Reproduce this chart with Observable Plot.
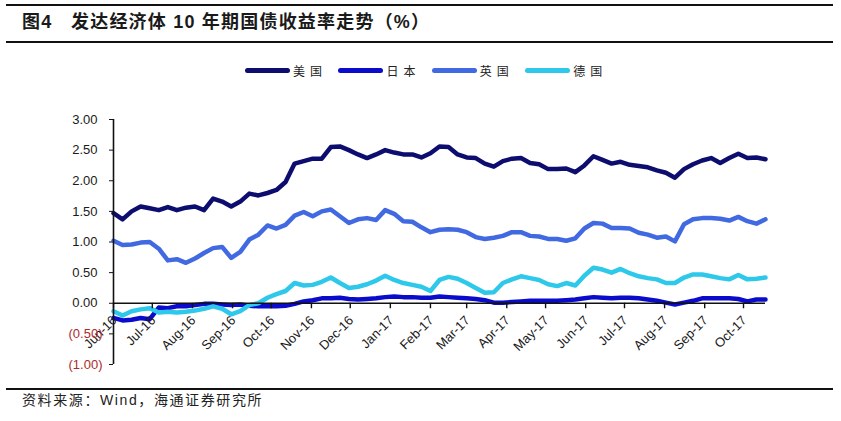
<!DOCTYPE html>
<html><head><meta charset="utf-8">
<script src="https://cdn.jsdelivr.net/npm/d3@7"></script>
<script src="https://cdn.jsdelivr.net/npm/@observablehq/plot@0.6"></script>
<style>
body{margin:0;background:#fff;}
#wrap{position:relative;width:841px;height:421px;overflow:hidden;background:#fff;font-family:"Liberation Sans",Arial,"Noto Sans CJK SC",sans-serif;color:#1a1a1a;}
.rule{position:absolute;left:6px;width:827px;height:0;border-top:2px solid #111;}
#title{position:absolute;left:22px;top:10px;font-size:18px;font-weight:bold;line-height:24px;white-space:nowrap;letter-spacing:1.2px;font-family:"Liberation Sans","Noto Sans CJK SC",sans-serif;}
#legend{position:absolute;top:60px;left:0;height:20px;width:841px;}
.li{position:absolute;top:0;height:20px;display:flex;align-items:center;}
.sw{width:45px;height:5px;border-radius:3px;}
.lab{margin-left:3px;font-size:12px;letter-spacing:5px;font-family:"Noto Sans CJK SC",sans-serif;color:#222;}
#chart{position:absolute;left:0;top:85px;}
#foot{position:absolute;left:22px;top:390px;font-size:14px;line-height:20px;letter-spacing:1.6px;white-space:nowrap;font-family:"Liberation Sans","Noto Sans CJK SC",sans-serif;color:#222;}
</style></head>
<body>
<div id="wrap">
  <div class="rule" style="top:4px"></div>
  <div id="title">图4&nbsp;&nbsp;&nbsp;发达经济体 10 年期国债收益率走势（%）</div>
  <div class="rule" style="top:41px"></div>
  <div id="legend"></div>
  <div id="chart"></div>
  <div class="rule" style="top:388px"></div>
  <div id="foot">资料来源：Wind，海通证券研究所</div>
</div>
<script>
// ---- data (weekly readings, %) ----
const dates = ["2016-06-24","2016-07-01","2016-07-08","2016-07-15","2016-07-22","2016-07-29","2016-08-05","2016-08-12","2016-08-19","2016-08-26",
"2016-09-02","2016-09-09","2016-09-16","2016-09-23","2016-09-30","2016-10-07","2016-10-14","2016-10-21","2016-10-28","2016-11-04",
"2016-11-11","2016-11-18","2016-11-25","2016-12-02","2016-12-09","2016-12-16","2016-12-23","2016-12-30","2017-01-06","2017-01-13",
"2017-01-20","2017-01-27","2017-02-03","2017-02-10","2017-02-17","2017-02-24","2017-03-03","2017-03-10","2017-03-17","2017-03-24",
"2017-03-31","2017-04-07","2017-04-14","2017-04-21","2017-04-28","2017-05-05","2017-05-12","2017-05-19","2017-05-26","2017-06-02",
"2017-06-09","2017-06-16","2017-06-23","2017-06-30","2017-07-07","2017-07-14","2017-07-21","2017-07-28","2017-08-04","2017-08-11",
"2017-08-18","2017-08-25","2017-09-01","2017-09-08","2017-09-15","2017-09-22","2017-09-29","2017-10-06","2017-10-13","2017-10-20",
"2017-10-27","2017-11-03","2017-11-10"];
const usYield = [1.47,1.37,1.50,1.58,1.55,1.52,1.57,1.52,1.56,1.58,
1.52,1.71,1.66,1.58,1.66,1.79,1.76,1.80,1.85,1.98,
2.28,2.32,2.36,2.36,2.55,2.56,2.50,2.43,2.37,2.43,
2.50,2.46,2.43,2.43,2.38,2.45,2.56,2.55,2.43,2.38,
2.37,2.28,2.23,2.32,2.36,2.37,2.29,2.27,2.19,2.19,
2.20,2.14,2.25,2.40,2.34,2.28,2.31,2.26,2.24,2.22,
2.17,2.13,2.05,2.19,2.27,2.33,2.37,2.29,2.37,2.44,
2.37,2.38,2.35];
const jpYield = [-0.24,-0.28,-0.27,-0.24,-0.26,-0.07,-0.08,-0.05,-0.05,-0.03,
-0.01,-0.01,-0.02,-0.03,-0.02,-0.04,-0.05,-0.05,-0.05,-0.04,
-0.01,0.03,0.05,0.08,0.08,0.09,0.07,0.06,0.07,0.08,
0.10,0.11,0.10,0.10,0.09,0.09,0.11,0.10,0.09,0.08,
0.07,0.05,0.01,0.01,0.02,0.03,0.04,0.04,0.04,0.04,
0.05,0.06,0.08,0.10,0.09,0.08,0.09,0.09,0.08,0.06,
0.04,0.01,-0.02,0.01,0.04,0.08,0.08,0.08,0.08,0.07,
0.03,0.06,0.06];
const ukYield = [1.02,0.95,0.96,0.99,1.00,0.89,0.70,0.72,0.66,0.73,
0.82,0.90,0.92,0.74,0.84,1.04,1.12,1.27,1.22,1.28,
1.43,1.49,1.42,1.50,1.53,1.42,1.31,1.37,1.39,1.36,
1.52,1.46,1.34,1.33,1.24,1.16,1.20,1.21,1.20,1.16,
1.08,1.05,1.07,1.10,1.16,1.16,1.10,1.09,1.05,1.05,
1.02,1.06,1.22,1.31,1.30,1.23,1.23,1.22,1.15,1.12,
1.07,1.09,1.01,1.29,1.37,1.39,1.39,1.38,1.35,1.41,
1.34,1.30,1.37];
const deYield = [-0.13,-0.20,-0.13,-0.10,-0.08,-0.15,-0.14,-0.15,-0.14,-0.12,
-0.09,-0.05,-0.09,-0.18,-0.13,-0.03,0.00,0.09,0.15,0.20,
0.33,0.29,0.30,0.35,0.42,0.33,0.25,0.27,0.31,0.37,
0.45,0.38,0.33,0.30,0.27,0.20,0.38,0.43,0.40,0.33,
0.25,0.17,0.18,0.33,0.39,0.44,0.41,0.38,0.31,0.28,
0.33,0.29,0.45,0.58,0.55,0.50,0.56,0.49,0.44,0.41,
0.39,0.33,0.33,0.42,0.47,0.47,0.44,0.41,0.39,0.46,
0.39,0.40,0.42];
const seriesNames = ["美国","日本","英国","德国"];
const seriesColors = ["#0d0d70","#0b0bcc","#4169e1","#2ec9ea"];
const yTicks = [3,2.5,2,1.5,1,0.5,0,-0.5,-1];
const yTickLabels = ["3.00","2.50","2.00","1.50","1.00","0.50","0.00","(0.50)","(1.00)"];
const xTickDates = ["2016-06-24","2016-07-24","2016-08-24","2016-09-24","2016-10-24","2016-11-24","2016-12-24","2017-01-24","2017-02-24",
"2017-03-24","2017-04-24","2017-05-24","2017-06-24","2017-07-24","2017-08-24","2017-09-24","2017-10-24"];
const xTickLabels = ["Jun-16","Jul-16","Aug-16","Sep-16","Oct-16","Nov-16","Dec-16","Jan-17","Feb-17",
"Mar-17","Apr-17","May-17","Jun-17","Jul-17","Aug-17","Sep-17","Oct-17"];
const xStart = "2016-06-24", xEnd = "2017-11-10";

// ---- build ----
const parse = d3.utcParse("%Y-%m-%d");
const values = [usYield, jpYield, ukYield, deYield];
const rows = [];
seriesNames.forEach((s, i) => dates.forEach((d, j) => rows.push({date: parse(d), value: values[i][j], series: s})));
const xt = xTickDates.map((d, i) => ({date: parse(d), label: xTickLabels[i]}));
const yt = yTicks.map((v, i) => ({v, label: yTickLabels[i]}));
const x0 = parse(xStart);

// legend
const leg = document.getElementById("legend");
seriesNames.forEach((s, i) => {
  const el = document.createElement("div");
  el.className = "li";
  el.style.left = (245 + i * 93.4) + "px";
  el.innerHTML = `<div class="sw" style="background:${seriesColors[i]}"></div><span class="lab">${s}</span>`;
  leg.appendChild(el);
});

const chart = Plot.plot({
  width: 841,
  height: 300,
  marginLeft: 113,
  marginRight: 76,
  marginTop: 34,
  marginBottom: 21,
  style: {fontFamily: "Liberation Sans, Arial, sans-serif", fontSize: "13px", background: "transparent"},
  x: {type: "utc", domain: [x0, parse(xEnd)], axis: null},
  y: {domain: [-1, 3]},
  color: {domain: seriesNames, range: seriesColors},
  marks: [
    Plot.axisY({ticks: yTicks, tickSize: 4, tickFormat: () => "", label: null, stroke: "#111"}),
    Plot.line(rows, {x: "date", y: "value", z: "series", stroke: "series", strokeWidth: 4.5, strokeLinejoin: "round", strokeLinecap: "round"}),
    Plot.ruleY([0], {stroke: "#111", strokeWidth: 1.6}),
    Plot.ruleX([x0], {y1: -1, y2: 3, stroke: "#111", strokeWidth: 1.6}),
    Plot.ruleX(xt, {x: "date", y1: 0, y2: -0.09, stroke: "#111", strokeWidth: 1.4}),
    Plot.text(xt, {x: "date", y: 0, text: "label", rotate: -45, textAnchor: "end", dx: 1, dy: 15, fill: "#1a1a1a"}),
    Plot.text(yt.filter(d => d.v >= 0), {x: () => x0, y: "v", text: "label", textAnchor: "end", dx: -16, fill: "#1a1a1a"}),
    Plot.text(yt.filter(d => d.v < 0), {x: () => x0, y: "v", text: "label", textAnchor: "end", dx: -11, fill: "#b02a2a"})
  ]
});
document.getElementById("chart").appendChild(chart);
</script>
</body></html>
